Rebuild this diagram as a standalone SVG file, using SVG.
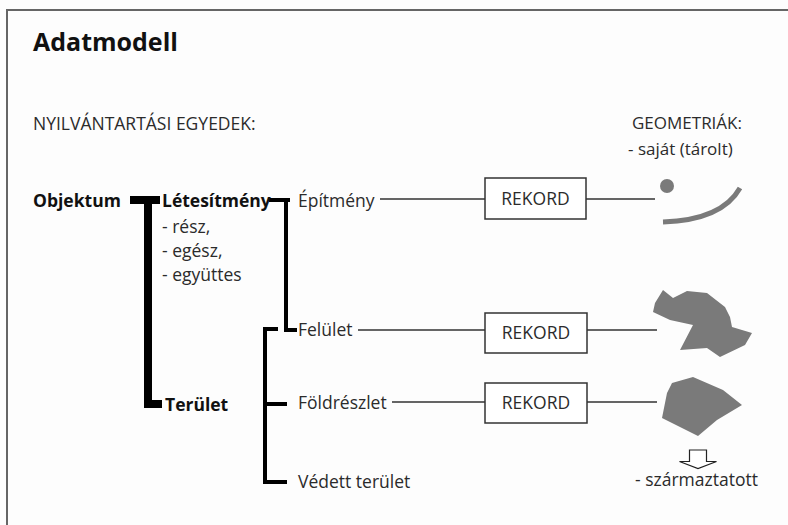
<svg xmlns="http://www.w3.org/2000/svg" width="788" height="525" viewBox="0 0 788 525">
<style>
text{font-family:"Open Sans","Noto Sans","DejaVu Sans",sans-serif;fill:#2b2b2b;font-size:17.5px}
.b{font-weight:bold;fill:#111}
.thick{stroke:#000;stroke-width:8;fill:none}
.br{stroke:#000;stroke-width:4;fill:none}
.ln{stroke:#333;stroke-width:1.5;fill:none}
.box{fill:#fff;stroke:#333;stroke-width:1.5}
.geo{fill:#7a7a7a}
</style>
<rect x="0" y="0" width="788" height="525" fill="#fdfdfd"/>
<path d="M7 525V10H788" stroke="#666" stroke-width="2" fill="none"/>
<text x="33" y="51" class="b" style="font-size:25px">Adatmodell</text>
<text x="33" y="130">NYILVÁNTARTÁSI EGYEDEK:</text>
<text x="632" y="129" style="font-size:17px">GEOMETRIÁK:</text>
<text x="628" y="155" style="font-size:17px">- saját (tárolt)</text>
<g id="connectors">
<path class="thick" d="M130 200H160M148 200V404H162"/>
<path class="br" d="M269 200H290M286 200V330H297"/>
<path class="br" d="M278 329H265V482H287M265 404H287"/>
<path class="ln" d="M380 199H485M586 199H655"/>
<path class="ln" d="M358 330H485M587 330H657"/>
<path class="ln" d="M392 402H485M587 402H657"/>
</g>
<g id="objektum"><text x="33" y="207" class="b">Objektum</text></g>
<g id="letesitmeny"><text x="162" y="207" class="b">Létesítmény</text>
<text x="162" y="233">- rész,</text>
<text x="162" y="257">- egész,</text>
<text x="162" y="281">- együttes</text></g>
<g id="terulet"><text x="165" y="411" class="b">Terület</text></g>
<g id="epitmeny"><text x="298" y="207">Építmény</text></g>
<g id="felulet"><text x="298" y="336">Felület</text></g>
<g id="foldreszlet"><text x="298" y="409">Földrészlet</text></g>
<g id="vedett"><text x="298" y="488">Védett terület</text></g>
<g id="rekord1"><rect class="box" x="485" y="178" width="101" height="41"/><text x="535.5" y="205" text-anchor="middle">REKORD</text></g>
<g id="rekord2"><rect class="box" x="485" y="313" width="102" height="40"/><text x="536" y="339" text-anchor="middle">REKORD</text></g>
<g id="rekord3"><rect class="box" x="485" y="383" width="102" height="40"/><text x="536" y="409" text-anchor="middle">REKORD</text></g>
<g id="geom1"><circle class="geo" cx="667" cy="186" r="7"/><path d="M663 222Q722 220 740 188" stroke="#7a7a7a" stroke-width="5" fill="none"/></g>
<g id="geom2"><polygon class="geo" points="663,290 673,298 687,291 707,293 725,307 730,317 732,327 752,333 745,345 720,357 707,348 680,350 693,325 670,320 653,312 655,303"/></g>
<g id="geom3"><polygon class="geo" points="672,383 693,377 723,390 742,405 717,420 698,436 662,418 667,393"/>
<polygon points="689.5,450 706.5,450 706.5,461.5 716.5,461.5 698,468.5 679.5,461.5 689.5,461.5" fill="#fff" stroke="#222" stroke-width="1.2"/>
<text x="635" y="486">- származtatott</text></g>
</svg>
